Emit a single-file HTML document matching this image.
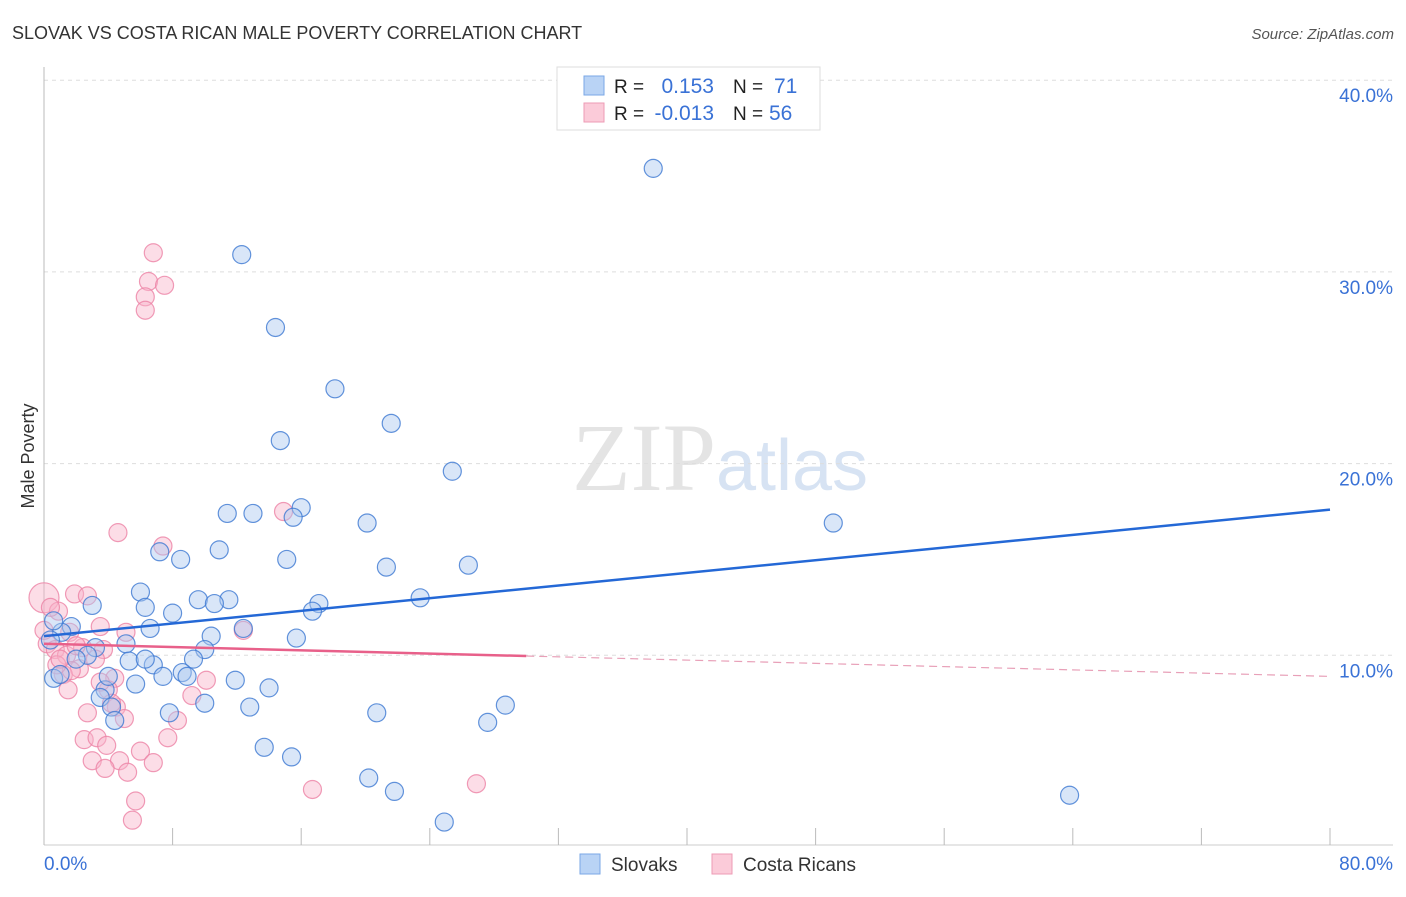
<!DOCTYPE html>
<html><head><meta charset="utf-8"><style>
body{margin:0;background:#fff;width:1406px;height:892px;overflow:hidden;font-family:"Liberation Sans",sans-serif}
</style></head><body>
<svg id="chart" width="1406" height="892" xmlns="http://www.w3.org/2000/svg" font-family="Liberation Sans, sans-serif">
<text x="12" y="39" font-size="18" fill="#333">SLOVAK VS COSTA RICAN MALE POVERTY CORRELATION CHART</text>
<text x="1394" y="39" font-size="15" fill="#555" text-anchor="end" font-style="italic">Source: ZipAtlas.com</text>
<text x="720" y="490" font-size="96" fill="#e4e4e4" text-anchor="middle" font-family="Liberation Serif, serif">ZIP<tspan fill="#d7e3f3" font-family="Liberation Sans, sans-serif" font-size="72">atlas</tspan></text>
<text transform="translate(34,456) rotate(-90)" font-size="18" fill="#333" text-anchor="middle">Male Poverty</text>
<g id="grid"></g><g id="axes"></g><g id="pts"></g><g id="lines"></g>
<g>
<rect x="557" y="67" width="263" height="63" fill="#fff" stroke="#ddd"/>
<rect x="584" y="76" width="20" height="19" fill="#b9d3f5" stroke="#7aa7e6"/>
<rect x="584" y="103" width="20" height="19" fill="#fbcbd9" stroke="#ee9bb5"/>
<text x="614" y="93" font-size="19" fill="#222">R =</text><text x="714" y="93" font-size="21" fill="#3a72d6" text-anchor="end">0.153</text>
<text x="733" y="93" font-size="19" fill="#222">N =</text><text x="774" y="93" font-size="21" fill="#3a72d6">71</text>
<text x="614" y="120" font-size="19" fill="#222">R =</text><text x="714" y="120" font-size="21" fill="#3a72d6" text-anchor="end">-0.013</text>
<text x="733" y="120" font-size="19" fill="#222">N =</text><text x="769" y="120" font-size="21" fill="#3a72d6">56</text>
</g>
<g>
<rect x="580" y="854" width="20" height="20" fill="#b9d3f5" stroke="#7aa7e6"/>
<text x="611" y="871" font-size="19" fill="#333">Slovaks</text>
<rect x="712" y="854" width="20" height="20" fill="#fbcbd9" stroke="#ee9bb5"/>
<text x="743" y="871" font-size="19" fill="#333">Costa Ricans</text>
</g>
</svg>
<script>
const yTicks=[10,20,30,40];
const yTickLabels=["10.0%","20.0%","30.0%","40.0%"];
const xEdgeLabels=["0.0%","80.0%"];
const blueX=[37.9,12.3,14.4,18.1,21.6,14.7,25.4,49.1,11.4,13.0,16.0,15.5,20.1,7.2,10.9,8.5,15.1,21.3,26.4,23.4,6.0,3.0,6.3,9.6,11.5,10.6,17.1,16.7,8.0,6.6,1.7,1.1,12.4,10.4,15.7,5.1,3.2,10.0,2.7,2.0,5.3,9.3,6.8,8.6,8.9,7.4,0.6,1.0,3.8,5.7,11.9,14.0,3.5,10.0,7.8,12.8,4.2,4.4,20.7,27.6,28.7,13.7,15.4,20.2,21.8,24.9,63.8,0.6,0.4,4.0,6.3];
const blueY=[35.4,30.9,27.1,23.9,22.1,21.2,19.6,16.9,17.4,17.4,17.7,17.2,16.9,15.4,15.5,15.0,15.0,14.6,14.7,13.0,13.3,12.6,12.5,12.9,12.9,12.7,12.7,12.3,12.2,11.4,11.5,11.2,11.4,11.0,10.9,10.6,10.4,10.3,10.0,9.8,9.7,9.8,9.5,9.1,8.9,8.9,8.8,9.0,8.2,8.5,8.7,8.3,7.8,7.5,7.0,7.3,7.3,6.6,7.0,6.5,7.4,5.2,4.7,3.6,2.9,1.3,2.7,11.8,10.8,8.9,9.8];
const pinkX=[6.8,6.5,7.5,6.3,6.3,4.6,7.4,14.9,0.0,1.9,2.7,0.9,3.5,1.6,0.2,0.7,3.7,2.4,1.4,3.2,2.2,1.2,1.7,4.4,4.0,1.5,10.1,9.2,12.4,3.5,8.3,4.5,2.7,5.0,7.7,2.5,3.3,6.0,3.9,3.0,4.7,6.8,3.8,5.2,5.7,5.5,16.7,26.9,0.8,1.0,4.2,0.0,0.4,2.0,5.1];
const pinkY=[31.0,29.5,29.3,28.7,28.0,16.4,15.7,17.5,13.0,13.2,13.1,12.3,11.5,11.2,10.6,10.3,10.3,10.4,10.0,9.8,9.3,9.0,9.2,8.8,8.2,8.2,8.7,7.9,11.3,8.6,6.6,7.3,7.0,6.7,5.7,5.6,5.7,5.0,5.3,4.5,4.5,4.4,4.1,3.9,2.4,1.4,3.0,3.3,9.5,9.8,7.5,11.3,12.5,10.5,11.2];
const pinkR=[9,9,9,9,9,9,9,9,15,9,9,9,9,9,9,9,9,9,9,9,9,9,9,9,9,9,9,9,9,9,9,9,9,9,9,9,9,9,9,9,9,9,9,9,9,9,9,9,9,9,9,9,9,9,9];
const blueTrend=[11.0,17.6];   // y at x=0 and x=80
const pinkTrend=[10.6,8.9];    // y at x=0 and x=80
const pinkSolidEnd=30;
const X=v=>44+v/80*1286, Y=v=>847-v*19.17;
const NS="http://www.w3.org/2000/svg";
function mk(parent,tag,attrs){const e=document.createElementNS(NS,tag);for(const k in attrs)e.setAttribute(k,attrs[k]);document.getElementById(parent).appendChild(e);return e;}
yTicks.forEach((t,i)=>{
 const l=mk('grid','line',{x1:44,x2:1393,y1:Y(t),y2:Y(t),stroke:'#ddd','stroke-dasharray':'4,4'});
 
 
 const tx=mk('grid','text',{x:1393,y:Y(t)+22,'font-size':19,fill:'#3a72d6','text-anchor':'end'});
 tx.textContent=yTickLabels[i];
 
 
});
let a=mk('axes','line',{x1:44,x2:44,y1:67,y2:845,stroke:'#bbb'});


a=mk('axes','line',{x1:44,x2:1393,y1:845,y2:845,stroke:'#ccc'});


for(let i=0;i<=10;i++){const t=mk('axes','line',{x1:X(i*8),x2:X(i*8),y1:828,y2:845,stroke:'#bbb'});
 
 }
let xl=mk('axes','text',{x:44,y:870,'font-size':19,fill:'#3a72d6'});xl.textContent=xEdgeLabels[0];


xl=mk('axes','text',{x:1393,y:870,'font-size':19,fill:'#3a72d6','text-anchor':'end'});xl.textContent=xEdgeLabels[1];


pinkX.forEach((v,i)=>{const c=mk('pts','circle',{cx:X(v),cy:Y(pinkY[i]),r:pinkR[i],fill:'rgba(248,180,202,0.45)',stroke:'rgba(236,130,165,0.8)','stroke-width':1.2});
 
 });
blueX.forEach((v,i)=>{const c=mk('pts','circle',{cx:X(v),cy:Y(blueY[i]),r:9,fill:'rgba(170,200,240,0.45)',stroke:'rgba(60,120,210,0.8)','stroke-width':1.2});
 
 });
const py=x=>pinkTrend[0]+(pinkTrend[1]-pinkTrend[0])*x/80;
let ln=mk('lines','line',{x1:X(0),y1:Y(blueTrend[0]),x2:X(80),y2:Y(blueTrend[1]),stroke:'#2468d6','stroke-width':2.5});


ln=mk('lines','line',{x1:X(0),y1:Y(py(0)),x2:X(pinkSolidEnd),y2:Y(py(pinkSolidEnd)),stroke:'#e8608a','stroke-width':2.5});


ln=mk('lines','line',{x1:X(pinkSolidEnd),y1:Y(py(pinkSolidEnd)),x2:X(80),y2:Y(py(80)),stroke:'#e8a0b8','stroke-width':1.2,'stroke-dasharray':'8,5'});


</script>
</body></html>
